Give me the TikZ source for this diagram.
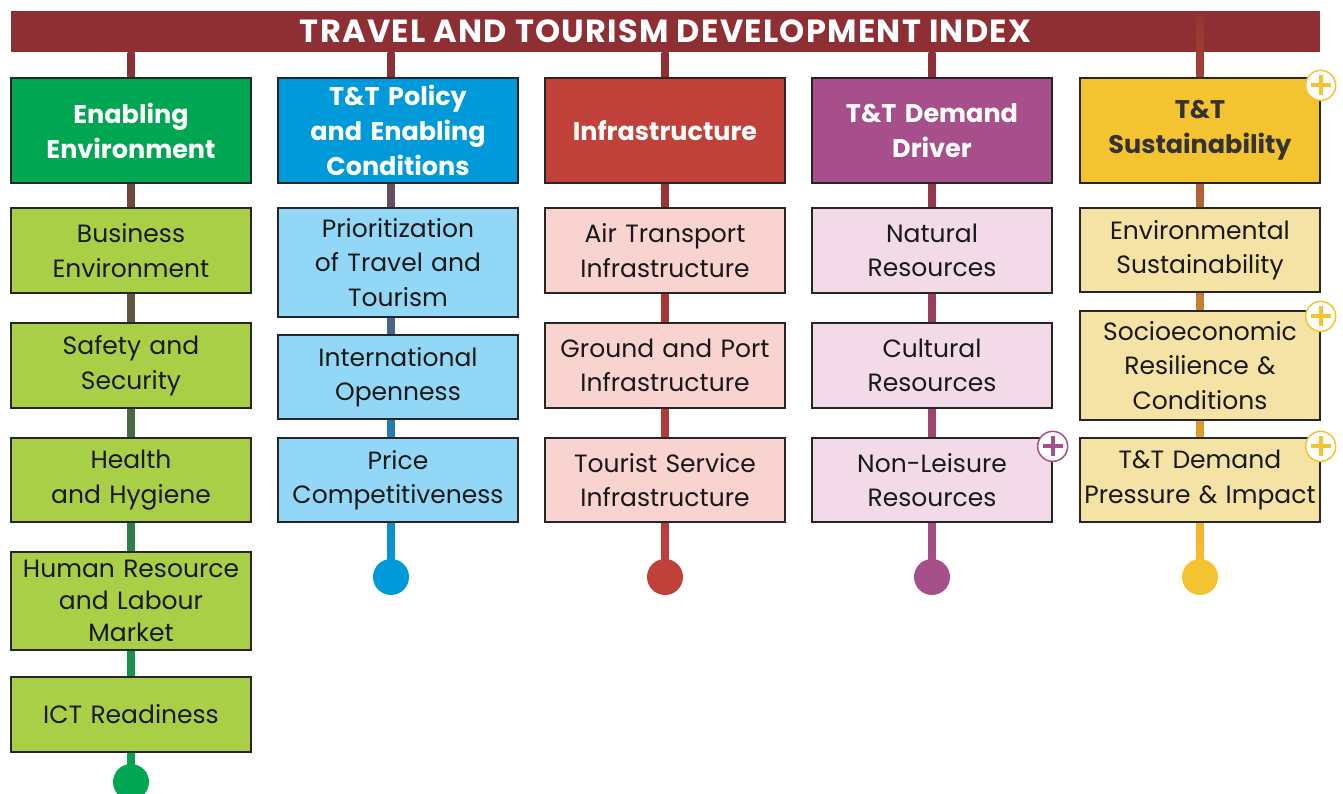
\documentclass[tikz,border=0pt]{standalone}
\usepackage{fontspec}
\setmainfont{Poppins}
\usetikzlibrary{calc,backgrounds}
\definecolor{ttred}{HTML}{8E2F33}
\definecolor{gA}{HTML}{00A651}\definecolor{gB}{HTML}{A8CF45}
\definecolor{bA}{HTML}{0099DA}\definecolor{bB}{HTML}{92D8F6}
\definecolor{rA}{HTML}{C0413A}\definecolor{rB}{HTML}{F8D3CF}
\definecolor{pA}{HTML}{A64F8A}\definecolor{pB}{HTML}{F3DAE9}
\definecolor{yA}{HTML}{F4C430}\definecolor{yB}{HTML}{F5E3A6}
\definecolor{darktxt}{HTML}{333333}
\begin{document}
\begin{tikzpicture}[x=1pt,y=-1pt,
  box/.style={draw=black!85, line width=1.3pt, minimum width=240pt, inner sep=0pt, align=center, text width=240pt},
  hdr/.style={box, font=\fontsize{25.5}{35}\selectfont\bfseries, text=white},
  sub/.style={box, font=\fontsize{25}{34.5}\selectfont, text=black!90},
  endpt/.style={circle, inner sep=0pt, minimum size=36pt, fill=#1},
  plusicon/.style={circle, draw=#1, fill=white, line width=1.5pt, minimum size=30pt, inner sep=0pt,
    path picture={\draw[#1, line width=4pt] ($(path picture bounding box.center)+(-10,0)$) -- ++(20,0)
      ($(path picture bounding box.center)+(0,-10)$) -- ++(0,20);}}
]
\useasboundingbox (0,0) rectangle (1343,794);
\node[fill=ttred, minimum width=1309pt, minimum height=41pt, inner sep=0pt,
  font=\fontsize{32}{34}\selectfont\bfseries\addfontfeature{LetterSpace=4}, text=white] (title) at (665.5,31.5) {TRAVEL AND TOURISM DEVELOPMENT INDEX};
% end point coordinates
\coordinate (e1) at (131,782);
\coordinate (e2) at (391,577);
\coordinate (e3) at (665,577);
\coordinate (e4) at (932,577);
\coordinate (e5) at (1200,577);
% connectors (gradient lines)
\shade[top color=ttred, bottom color=gA] ($(title.south -| e1)+(-3.5,0)$) rectangle ($(e1)+(3.5,0)$);
\shade[top color=ttred, bottom color=bA] ($(title.south -| e2)+(-3.5,0)$) rectangle ($(e2)+(3.5,0)$);
\shade[top color=ttred, bottom color=rA] ($(title.south -| e3)+(-3.5,0)$) rectangle ($(e3)+(3.5,0)$);
\shade[top color=ttred, bottom color=pA] ($(title.south -| e4)+(-3.5,0)$) rectangle ($(e4)+(3.5,0)$);
\shade[top color=ttred!80!rA, bottom color=yA] ($(e5)+(-3.5,-562)$) rectangle ($(e5)+(3.5,0)$);
% end circles
\node[endpt=gA] (end1) at (e1) {};
\node[endpt=bA] (end2) at (e2) {};
\node[endpt=rA] (end3) at (e3) {};
\node[endpt=pA] (end4) at (e4) {};
\node[endpt=yA] (end5) at (e5) {};
% column 1
\node[hdr, fill=gA, minimum height=105pt] (h1) at (131,130.5) {Enabling\\Environment};
\node[sub, fill=gB, minimum height=85pt] (s11) at (131,250.5) {Business\\Environment};
\node[sub, fill=gB, minimum height=85pt] (s12) at (131,365.5) {Safety and\\Security};
\node[sub, fill=gB, minimum height=84pt] (s13) at (131,480) {Health\\and Hygiene};
\node[sub, fill=gB, minimum height=98pt, font=\fontsize{25}{32}\selectfont] (s14) at (131,601) {Human Resource\\and Labour\\Market};
\node[sub, fill=gB, minimum height=75pt] (s15) at (131,714.5) {ICT Readiness};
% column 2
\node[hdr, fill=bA, minimum height=105pt] (h2) at (398,130.5) {T\&T Policy\\and Enabling\\Conditions};
\node[sub, fill=bB, minimum height=109pt] (s21) at (398,262.5) {Prioritization\\of Travel and\\Tourism};
\node[sub, fill=bB, minimum height=84pt] (s22) at (398,377) {International\\Openness};
\node[sub, fill=bB, minimum height=84pt] (s23) at (398,480) {Price\\Competitiveness};
% column 3
\node[hdr, fill=rA, minimum height=105pt] (h3) at (665,130.5) {Infrastructure};
\node[sub, fill=rB, minimum height=85pt] (s31) at (665,250.5) {Air Transport\\Infrastructure};
\node[sub, fill=rB, minimum height=85pt] (s32) at (665,365.5) {Ground and Port\\Infrastructure};
\node[sub, fill=rB, minimum height=84pt] (s33) at (665,480) {Tourist Service\\Infrastructure};
% column 4
\node[hdr, fill=pA, minimum height=105pt] (h4) at (932,130.5) {T\&T Demand\\Driver};
\node[sub, fill=pB, minimum height=85pt] (s41) at (932,250.5) {Natural\\Resources};
\node[sub, fill=pB, minimum height=85pt] (s42) at (932,365.5) {Cultural\\Resources};
\node[sub, fill=pB, minimum height=84pt] (s43) at (932,480) {Non-Leisure\\Resources};
% column 5
\node[hdr, fill=yA, text=darktxt, minimum height=105pt] (h5) at (1200,130.5) {T\&T\\Sustainability\\[-3pt]};
\node[sub, fill=yB, minimum height=84pt] (s51) at (1200,250) {Environmental\\Sustainability};
\node[sub, fill=yB, minimum height=109pt] (s52) at (1200,365.5) {Socioeconomic\\Resilience \&\\Conditions};
\node[sub, fill=yB, minimum height=84pt] (s53) at (1200,480) {T\&T Demand\\Pressure \& Impact};
% plus icons
\node[plusicon=yA] (p1) at ($(h5.north east)+(0,8)$) {};
\node[plusicon=yA] (p2) at ($(s52.north east)+(0,6)$) {};
\node[plusicon=yA] (p3) at ($(s53.north east)+(0,9)$) {};
\node[plusicon=pA] (p4) at ($(s43.north east)+(0,9)$) {};
\end{tikzpicture}
\end{document}
